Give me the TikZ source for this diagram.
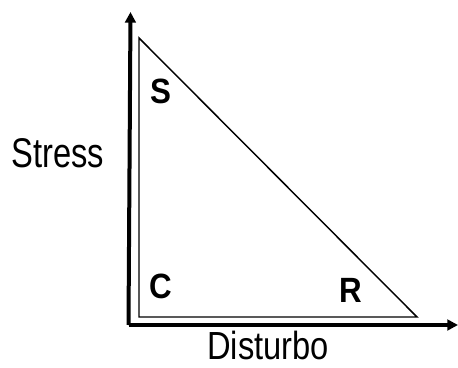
\documentclass[tikz,border=0pt]{standalone}
\usepackage{fontspec}
\setmainfont{Liberation Sans}
\usetikzlibrary{arrows.meta}
\tikzset{
    axis/.style={line width=3pt, -{Triangle[length=8pt, width=8pt]}},
    side/.style={line width=1.1pt, line join=miter},
    corner/.style={font=\fontsize{23.5}{23.5}\selectfont\bfseries, inner sep=0pt, anchor=base},
    axislabel/.style={font=\fontsize{24.5}{24.5}\selectfont, inner sep=0pt, anchor=base}
}

\begin{document}
\begin{tikzpicture}[x=0.75pt, y=-0.75pt]
            \useasboundingbox (0,0) rectangle (458,368);

            % axes
            \coordinate (o) at (130.5,325);
            \coordinate (ytip) at (130.5,12);
            \coordinate (xtip) at (458,325);
            \draw[axis] ([xshift=-1.5pt]o) -- (ytip);
            \draw[axis] ([xshift=-1.5pt]o) -- (xtip);

            % triangle
            \coordinate (s) at (139,38);
            \coordinate (c) at (139,317);
            \coordinate (r) at (417,317);
            \draw[side] (s) -- (c) -- (r) -- cycle;

            % corners
            \node[corner] (sl) at (161,103) {\scalebox{1}[1.12]{S}};
            \node[corner] (cl) at (161,298) {\scalebox{1}[1.12]{C}};
            \node[corner] (rl) at (351,302) {\scalebox{1}[1.12]{R}};

            % axis labels
            \node[axislabel] (stress) at (58,167) {\scalebox{1}[1.27]{Stress}};
            \node[axislabel] (disturbo) at (268,359) {\scalebox{1}[1.2]{Disturbo}};
        \end{tikzpicture}
\end{document}
